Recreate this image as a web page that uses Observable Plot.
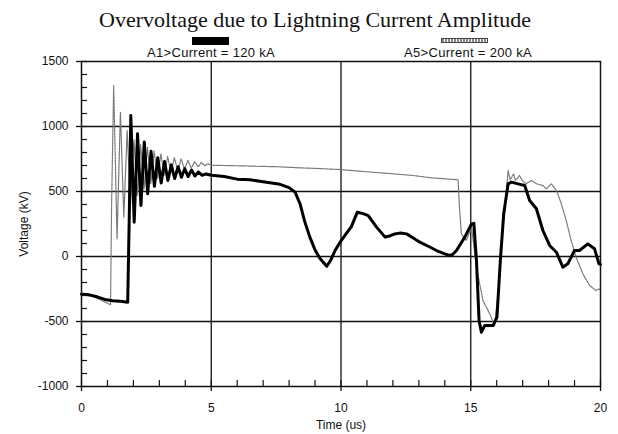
<!DOCTYPE html>
<html>
<head>
<meta charset="utf-8">
<script src="https://cdn.jsdelivr.net/npm/d3@7"></script>
<script src="https://cdn.jsdelivr.net/npm/@observablehq/plot@0.6"></script>
<style>
  html, body { margin: 0; padding: 0; background: white; }
  #wrap { position: relative; width: 618px; height: 434px; overflow: hidden; background: white; }
  #chart { position: absolute; left: 0; top: 40px; z-index: 1; }
  #title { position: absolute; top: 8px; left: 0; width: 630px; text-align: center; z-index: 2; line-height: 1.1;
           font-family: "Liberation Serif", "Times New Roman", serif; font-size: 22px; color: #111; }
  .leg { position: absolute; font-family: "Liberation Sans", Arial, sans-serif; font-size: 13px; letter-spacing: 0.3px; color: #111;
         white-space: nowrap; transform: translateX(-50%); z-index: 2; }
  #sw1 { position: absolute; left: 192px; top: 37px; width: 37px; height: 8px; background: #000; z-index: 2; }
  #sw2 { position: absolute; left: 441px; top: 38px; width: 45px; height: 3px; border: 1px solid #444; z-index: 2;
         background: repeating-linear-gradient(90deg, #888 0 2px, #fff 2px 3px); }
</style>
</head>
<body>
<div id="wrap">
  <div id="chart"></div>
  <div id="title">Overvoltage due to Lightning Current Amplitude</div>
  <div id="sw1"></div>
  <div class="leg" id="lg1" style="left:211px; top:45px;"></div>
  <div id="sw2"></div>
  <div class="leg" id="lg2" style="left:468px; top:45px;"></div>
</div>
<script>
// Series names
const seriesNames = ["A1>Current = 120 kA", "A5>Current = 200 kA"];

// Tick values
const xMajor = [0, 5, 10, 15, 20];
const xMinor = d3.range(0, 21, 1);
const yMajor = [-1000, -500, 0, 500, 1000, 1500];
const yMinor = d3.range(-1000, 1501, 100);
const xGrid = [5, 10, 15];
const yGrid = [-500, 0, 500, 1000];

// A1 (120 kA) — time (us) and voltage (kV)
const a1Time = [0, 0.3, 0.6, 0.9, 1.2, 1.5, 1.78, 1.84, 1.90, 2.03, 2.16, 2.29, 2.42, 2.55, 2.68, 2.81, 2.94,
  3.07, 3.20, 3.33, 3.46, 3.59, 3.72, 3.85, 3.98, 4.11, 4.24, 4.37, 4.50, 4.65, 4.8, 5.0, 5.5, 6.0, 6.5, 7.0,
  7.65, 8.0, 8.23, 8.42, 8.6, 8.8, 9.0, 9.19, 9.45, 9.6, 9.77, 10.0, 10.2, 10.4, 10.63, 10.85, 11.05, 11.37,
  11.7, 11.9, 12.08, 12.3, 12.53, 12.8, 13.04, 13.4, 13.68, 14.0, 14.19, 14.3, 14.45, 14.77, 15.03, 15.12,
  15.22, 15.32, 15.41, 15.54, 15.86, 16.01, 16.14, 16.27, 16.44, 16.57, 16.82, 17.08, 17.27, 17.53, 17.78,
  18.04, 18.3, 18.55, 18.74, 19.0, 19.19, 19.51, 19.77, 19.94, 20.0];
const a1Volt = [-290, -295, -310, -330, -340, -345, -352, 300, 1085, 264, 944, 392, 880, 482, 810, 540, 760,
  565, 730, 585, 705, 600, 690, 610, 675, 615, 665, 620, 650, 625, 635, 625, 615, 595, 590, 575,
  555, 530, 495, 406, 270, 149, 50, -15, -75, -30, 46, 120, 176, 230, 341, 330, 315, 226,
  149, 160, 174, 180, 174, 140, 110, 75, 46, 20, 8, 15, 46, 149, 251, 255,
  -31, -492, -582, -531, -531, -467, -31, 328, 559, 572, 559, 546, 431, 367, 200,
  85, 33, -82, -56, 46, 46, 97, 59, -56, -60];

// A5 (200 kA) — time (us) and voltage (kV)
const a5Time = [0, 0.4, 0.8, 1.05, 1.12, 1.16, 1.24, 1.37, 1.50, 1.63, 1.76, 1.89, 2.02, 2.15, 2.28, 2.41,
  2.54, 2.67, 2.80, 2.93, 3.06, 3.19, 3.32, 3.45, 3.58, 3.71, 3.84, 3.97, 4.10, 4.23, 4.36, 4.49, 4.62, 4.75,
  4.88, 5.0, 6.0, 7.0, 7.65, 8.4, 9.0, 9.96, 11.0, 12.0, 12.78, 13.5, 14.2, 14.51, 14.57, 14.64, 14.83, 15.03,
  15.22, 15.47, 15.73, 15.92, 16.05, 16.18, 16.31, 16.44, 16.52, 16.65, 16.72, 16.88, 17.0, 17.14, 17.33,
  17.53, 17.78, 17.91, 18.1, 18.3, 18.49, 18.68, 18.87, 19.06, 19.32, 19.58, 19.83, 19.94, 20.0];
const a5Volt = [-295, -305, -340, -365, -370, 400, 1315, 136, 1110, 303, 969, 400, 900, 470, 860, 520,
  840, 560, 810, 600, 790, 625, 770, 645, 760, 660, 750, 670, 740, 680, 730, 690, 722, 698,
  714, 702, 698, 693, 690, 682, 678, 669, 652, 636, 623, 605, 595, 590, 360, 174, 123, 226,
  -82, -338, -441, -530, -287, 72, 354, 662, 590, 636, 585, 623, 580, 560, 585,
  560, 546, 520, 559, 510, 405, 277, 123, -5, -133, -223, -262, -250, -255];

const a1 = a1Time.map((t, i) => ({t, v: a1Volt[i]}));
const a5 = a5Time.map((t, i) => ({t, v: a5Volt[i]}));

document.getElementById("lg1").textContent = seriesNames[0];
document.getElementById("lg2").textContent = seriesNames[1];

const fmt = d => String(d);
const blank = () => "";

const chart = Plot.plot({
  width: 618,
  height: 394,
  marginTop: 21,
  marginBottom: 48,
  marginLeft: 81,
  marginRight: 18,
  style: {fontFamily: "'Liberation Sans', Arial, sans-serif", fontSize: "12px", color: "#111", background: "transparent"},
  x: {domain: [0, 20]},
  y: {domain: [-1000, 1500]},
  marks: [
    Plot.ruleY(yGrid, {stroke: "#111", strokeWidth: 1.3}),
    Plot.ruleX(xGrid, {stroke: "#111", strokeWidth: 1.3}),
    // minor ticks pointing into the plot (axis ticks shifted inward)
    Plot.axisX({ticks: xMinor, tickSize: 6, dy: -6, tickFormat: blank, label: null, strokeWidth: 1.2}),
    Plot.axisY({ticks: yMinor, tickSize: 6, dx: 6, tickFormat: blank, label: null, strokeWidth: 1.2}),
    Plot.axisX({ticks: xMajor, tickSize: 5, tickPadding: 12, tickFormat: fmt, label: "Time (us)", labelAnchor: "center", labelArrow: "none", labelOffset: 42, strokeWidth: 1.3}),
    Plot.axisY({ticks: yMajor, tickSize: 5, tickPadding: 8, tickFormat: fmt, label: "Voltage (kV)", labelAnchor: "center", labelArrow: "none", labelOffset: 62, strokeWidth: 1.3}),
    Plot.line(a5, {x: "t", y: "v", stroke: "#777", strokeWidth: 1.2, strokeDasharray: "2,1"}),
    Plot.line(a1, {x: "t", y: "v", stroke: "#000", strokeWidth: 3, strokeLinejoin: "round"}),
    Plot.frame({stroke: "#111", strokeWidth: 1.5})
  ]
});
document.getElementById("chart").appendChild(chart);
</script>
</body>
</html>
